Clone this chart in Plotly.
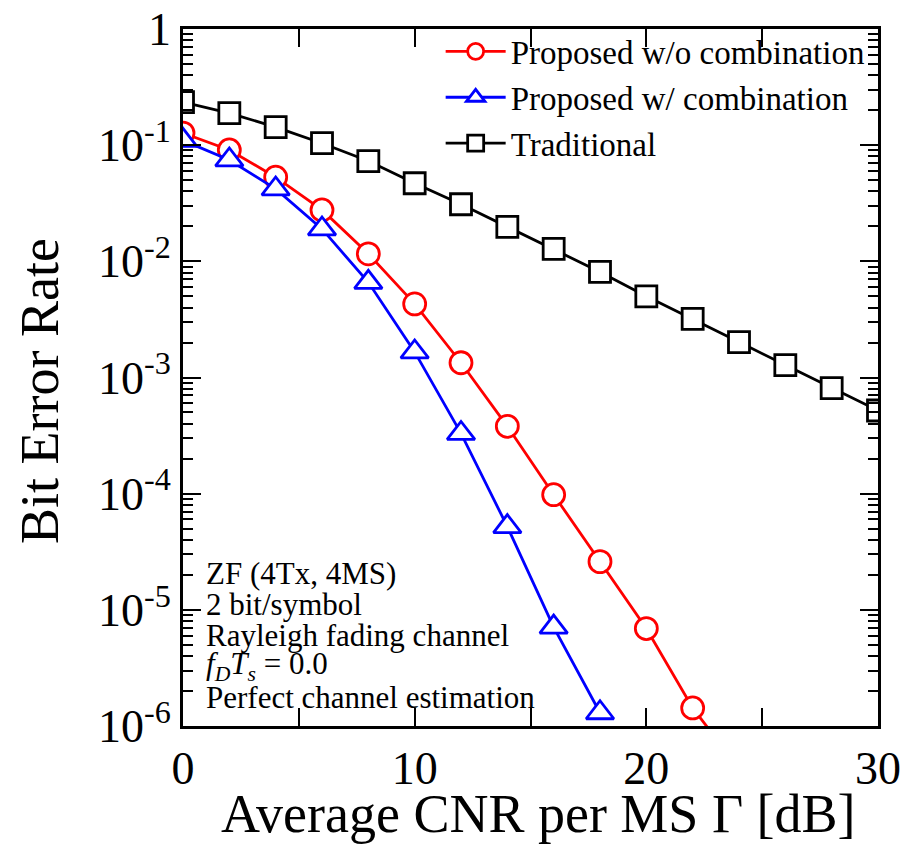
import plotly.graph_objects as go

cnr = [0, 2, 4, 6, 8, 10, 12, 14, 16, 18, 20, 22, 24, 26, 28, 30]
ber_wo = [0.127, 0.091, 0.053, 0.0277, 0.0116, 0.0043, 0.00134, 0.00038, 9.8e-5, 2.6e-5, 6.9e-6, 1.43e-6, 4.3e-7]
ber_w = [0.11, 0.0746, 0.042, 0.019, 0.0066, 0.00166, 3.3e-4, 5.2e-5, 7.1e-6, 1.3e-6]
ber_trad = [0.235, 0.189, 0.143, 0.104, 0.073, 0.047, 0.031, 0.0198, 0.0128, 0.0081,
            0.0050, 0.0032, 0.00202, 0.00128, 0.00081, 0.00052]
names = ["Proposed w/o combination", "Proposed w/ combination", "Traditional"]
x_ticks = [0, 5, 10, 15, 20, 25, 30]
x_ticklabels = ["0", "", "10", "", "20", "", "30"]
y_exps = [0, -1, -2, -3, -4, -5, -6]
y_ticklabels = ["1"] + ["10<sup>%d</sup>" % e for e in y_exps[1:]]
x_title = "Average CNR per MS \u0393 [dB]"
y_title = "Bit Error Rate"
notes = ["ZF (4Tx, 4MS)", "2 bit/symbol", "Rayleigh fading channel",
         "<i>f</i><sub><i>D</i></sub><i>T</i><sub><i>s</i></sub> = 0.0",
         "Perfect channel estimation"]

FONT = "Liberation Serif, Times New Roman, serif"

fig = go.Figure()
fig.add_trace(go.Scatter(x=cnr[:len(ber_wo)], y=ber_wo, name=names[0], mode="lines+markers",
                         line=dict(color="#ff0000", width=2.8),
                         marker=dict(symbol="circle", size=22, color="white",
                                     line=dict(width=2.8, color="#ff0000"))))
fig.add_trace(go.Scatter(x=cnr[:len(ber_w)], y=ber_w, name=names[1], mode="lines+markers",
                         line=dict(color="#0000ff", width=2.8),
                         marker=dict(symbol="triangle-up", size=24, color="white",
                                     line=dict(width=2.8, color="#0000ff"))))
fig.add_trace(go.Scatter(x=cnr, y=ber_trad, name=names[2], mode="lines+markers",
                         line=dict(color="#000000", width=2.8),
                         marker=dict(symbol="square", size=21, color="white",
                                     line=dict(width=2.8, color="#000000"))))

minor_vals = [m * 10.0 ** e for e in range(-6, 0) for m in range(2, 10)]

fig.update_xaxes(range=[0, 30], tickvals=x_ticks, ticktext=x_ticklabels, ticks="inside",
                 ticklen=18, tickwidth=2.2, tickcolor="black", mirror="ticks", showline=True,
                 linecolor="black", linewidth=2.8, showgrid=False, zeroline=False, automargin=False,
                 ticklabeloverflow="allow",
                 tickfont=dict(family=FONT, size=46, color="black"))
fig.update_yaxes(type="log", range=[-6, 0], tickvals=[10.0 ** e for e in y_exps], ticktext=y_ticklabels,
                 ticks="inside", ticklen=18, tickwidth=2.2, tickcolor="black", mirror="ticks", showline=True,
                 linecolor="black", linewidth=2.8, showgrid=False, zeroline=False, automargin=False,
                 ticklabeloverflow="allow",
                 tickfont=dict(family=FONT, size=46, color="black"),
                 minor=dict(tickvals=minor_vals, ticks="inside", ticklen=10, tickwidth=1.8, tickcolor="black",
                            showgrid=False))

fig.add_annotation(x=0.511, y=-0.126, xref="paper", yref="paper", text=x_title, showarrow=False,
                   xanchor="center", yanchor="middle", font=dict(family=FONT, size=54, color="black"))
fig.add_annotation(x=-0.205, y=0.48, xref="paper", yref="paper", text=y_title, showarrow=False,
                   textangle=-90, xanchor="center", yanchor="middle",
                   font=dict(family=FONT, size=54, color="black"))

for i, t in enumerate(notes):
    fig.add_annotation(x=0.03, y=0.219 - i * 0.0445, xref="paper", yref="paper", text=t, showarrow=False,
                       xanchor="left", yanchor="middle", font=dict(family=FONT, size=31, color="black"))

fig.update_layout(width=909, height=851, margin=dict(l=175, r=39, t=21, b=133, autoexpand=False),
                  plot_bgcolor="white", paper_bgcolor="white",
                  legend=dict(x=0.988, y=1.008, xanchor="right", yanchor="top", bgcolor="rgba(0,0,0,0)",
                              font=dict(family=FONT, size=33, color="black"), tracegroupgap=0,
                              itemwidth=60),
                  showlegend=True)

fig.write_html("out.html")
